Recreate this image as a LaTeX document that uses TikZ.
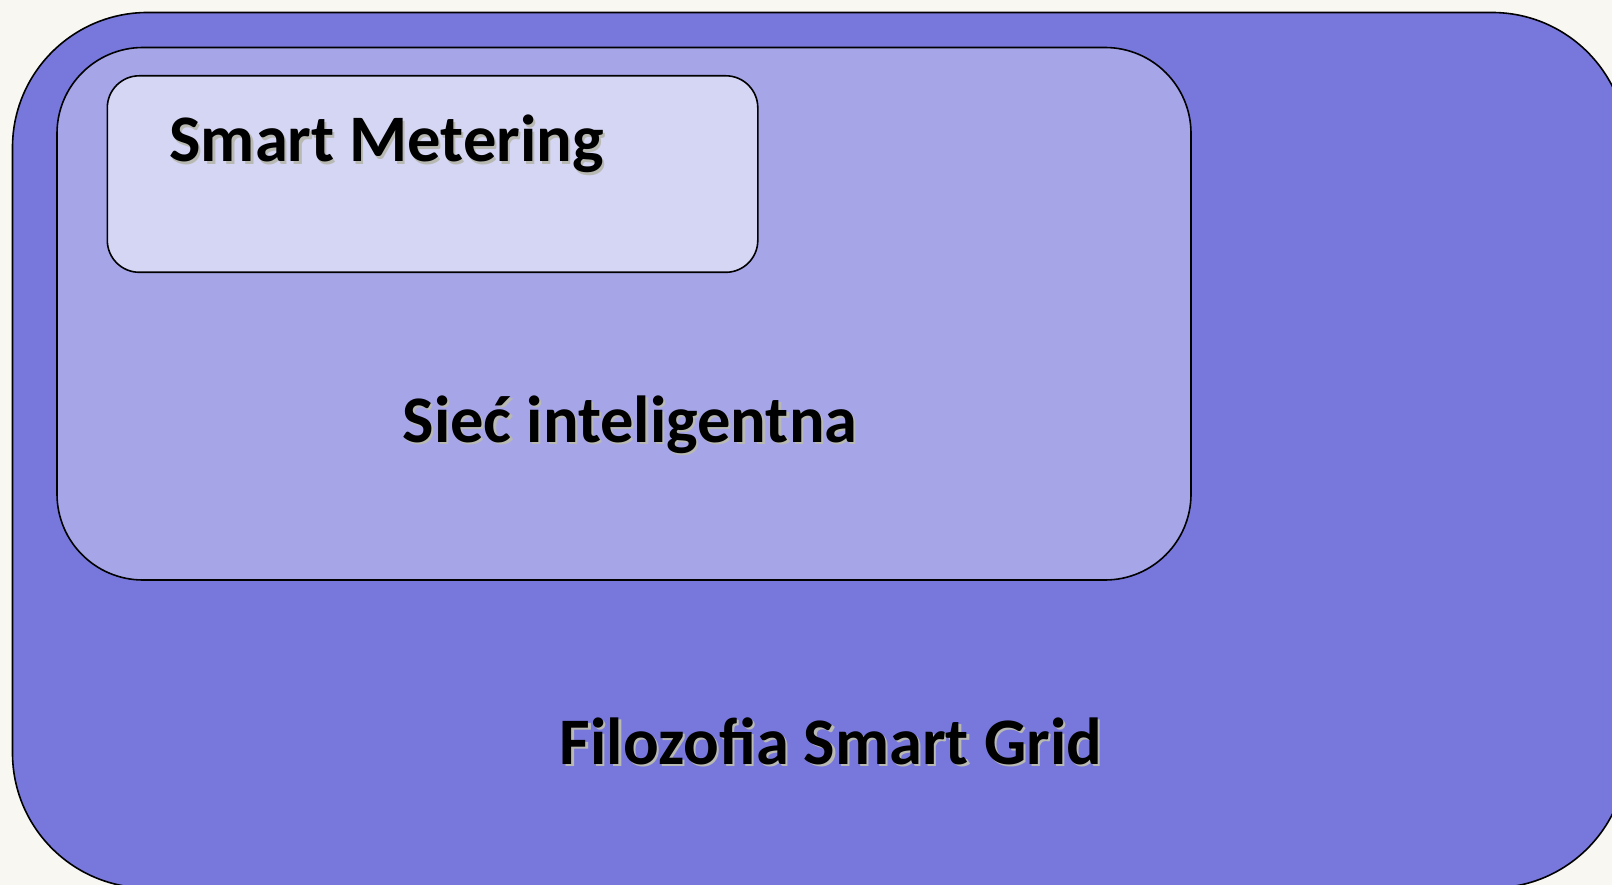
\documentclass[tikz,border=0pt]{standalone}
\usepackage{fontspec}
\setmainfont{Carlito}
\definecolor{bgcol}{RGB}{249,247,242}
\definecolor{outercol}{RGB}{120,120,220}
\definecolor{midcol}{RGB}{165,165,232}
\definecolor{innercol}{RGB}{213,214,243}
\definecolor{shgray}{RGB}{185,185,180}
\newcommand\shadowtxt[1]{\rlap{\kern2.2pt\raisebox{-2.2pt}{\color{shgray}#1}}#1}
\begin{document}
\begin{tikzpicture}[x=1pt,y=-1pt,
  box/.style={draw=black,line width=1.6pt,inner sep=0pt,outer sep=0pt,anchor=north west},
  lbl/.style={inner sep=0pt,outer sep=0pt,text=black,font=\fontsize{66.5}{70}\selectfont\bfseries}]
\useasboundingbox[fill=bgcol] (0,0) rectangle (1612,885);
\clip (0,0) rectangle (1612,885);
\node[box,fill=outercol,rounded corners=135pt,minimum width=1614.5pt,minimum height=875.5pt] (outer) at (12.5,12.5) {};
\node[box,fill=midcol,rounded corners=86pt,minimum width=1134pt,minimum height=532.5pt] (mid) at (57,47.5) {};
\node[box,fill=innercol,rounded corners=32pt,minimum width=650.5pt,minimum height=196.5pt] (inner) at (107.3,75.8) {};
\node[lbl,anchor=base west] (smlbl) at (169.5,162) {\shadowtxt{Smart Metering}};
\node[lbl,anchor=base] (sieclbl) at (630,442) {\shadowtxt{Sieć inteligentna}};
\node[lbl,anchor=base] (filolbl) at (831,764) {\shadowtxt{Filozofia Smart Grid}};
\end{tikzpicture}
\end{document}
